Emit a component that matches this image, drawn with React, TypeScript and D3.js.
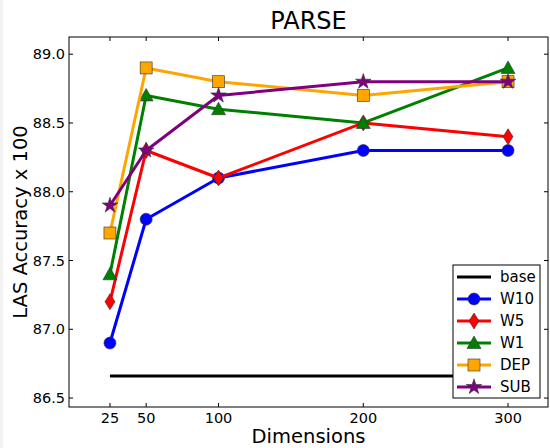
import React from "react";
import * as d3 from "d3";

const dims = [25, 50, 100, 200, 300];
const baseVals = [86.66, 86.66, 86.66, 86.66, 86.66];
const w10 = [86.9, 87.8, 88.1, 88.3, 88.3];
const w5 = [87.2, 88.3, 88.1, 88.5, 88.4];
const w1 = [87.4, 88.7, 88.6, 88.5, 88.9];
const dep = [87.7, 88.9, 88.8, 88.7, 88.8];
const sub = [87.9, 88.3, 88.7, 88.8, 88.8];
const yTicks = [86.5, 87.0, 87.5, 88.0, 88.5, 89.0];
const xTicks = [25, 50, 100, 200, 300];

const series = [
  { name: "W10", vals: w10, color: "#0000ff", marker: "circle" },
  { name: "W5", vals: w5, color: "#ff0000", marker: "diamond" },
  { name: "W1", vals: w1, color: "#008000", marker: "triangle" },
  { name: "DEP", vals: dep, color: "#ffa500", marker: "square" },
  { name: "SUB", vals: sub, color: "#800080", marker: "star" },
];

const W = 550, H = 448;
const L = 69, R = 548, T = 37, B = 407;
const FONT = "DejaVu Sans, sans-serif";

function Marker({ type, x, y, color }: { type: string; x: number; y: number; color: string }) {
  const st = { fill: color, stroke: "#333", strokeWidth: 0.6 };
  if (type === "circle") return <circle cx={x} cy={y} r={6} {...st} />;
  if (type === "diamond")
    return <path d={`M${x},${y - 8}L${x + 5},${y}L${x},${y + 8}L${x - 5},${y}Z`} {...st} />;
  if (type === "triangle")
    return <path d={`M${x},${y - 7}L${x + 7},${y + 5.5}L${x - 7},${y + 5.5}Z`} {...st} />;
  if (type === "square") return <rect x={x - 6} y={y - 6} width={12} height={12} {...st} />;
  const p = d3.symbol().type(d3.symbolStar).size(75)();
  return <path d={p || ""} transform={`translate(${x},${y})`} {...st} />;
}

export default function App() {
  const x = d3.scaleLinear().domain([-2.6, 327.6]).range([L + 1, R]);
  const y = d3.scaleLinear().domain([86.435, 89.125]).range([B, T]);
  const line = d3.line<number>().x((_, i) => x(dims[i])).y((v) => y(v));

  const legX = 453, legY = 265, legW = 87, legH = 133;
  const legendItems = [{ name: "base", color: "#000", marker: "" }, ...series];

  return (
    <div style={{ position: "fixed", left: 0, top: 0 }}>
      <svg width={W} height={H} style={{ display: "block", background: "#fff" }} fontFamily={FONT}>
        <rect x={0} y={0} width={3} height={H} fill="#f2f2f2" />
        <text x={(L + R) / 2} y={29} textAnchor="middle" fontSize={24}>PARSE</text>
        <path d={line(baseVals) || ""} fill="none" stroke="#000" strokeWidth={3} />
        {series.map((s) => (
          <g key={s.name}>
            <path d={line(s.vals) || ""} fill="none" stroke={s.color} strokeWidth={3} strokeLinejoin="round" />
            {s.vals.map((v, i) => (
              <Marker key={i} type={s.marker} x={x(dims[i])} y={y(v)} color={s.color} />
            ))}
          </g>
        ))}
        <rect x={L} y={T} width={R - L} height={B - T} fill="none" stroke="#000" strokeWidth={1} />
        {xTicks.map((t) => (
          <g key={t}>
            <line x1={x(t)} x2={x(t)} y1={B} y2={B - 4} stroke="#000" />
            <line x1={x(t)} x2={x(t)} y1={T} y2={T + 4} stroke="#000" />
            <text x={x(t)} y={B + 16} textAnchor="middle" fontSize={14.5}>{t}</text>
          </g>
        ))}
        {yTicks.map((t) => (
          <g key={t}>
            <line x1={L} x2={L + 4} y1={y(t)} y2={y(t)} stroke="#000" />
            <line x1={R} x2={R - 4} y1={y(t)} y2={y(t)} stroke="#000" />
            <text x={L - 4} y={y(t) + 5} textAnchor="end" fontSize={14.5}>{t.toFixed(1)}</text>
          </g>
        ))}
        <text x={(L + R) / 2} y={443} textAnchor="middle" fontSize={19.5}>Dimensions</text>
        <text transform={`translate(27,${(T + B) / 2}) rotate(-90)`} textAnchor="middle" fontSize={19.5}>
          LAS Accuracy x 100
        </text>
        <rect x={legX} y={legY} width={legW} height={legH} fill="#fff" stroke="#000" strokeWidth={1} />
        {legendItems.map((s, i) => {
          const cy = legY + 12 + i * 22;
          return (
            <g key={s.name}>
              <line x1={legX + 4} x2={legX + 38} y1={cy} y2={cy} stroke={s.color} strokeWidth={3} />
              {s.marker && <Marker type={s.marker} x={legX + 21} y={cy} color={s.color} />}
              <text x={legX + 47} y={cy + 5} fontSize={15}>{s.name}</text>
            </g>
          );
        })}
      </svg>
    </div>
  );
}
